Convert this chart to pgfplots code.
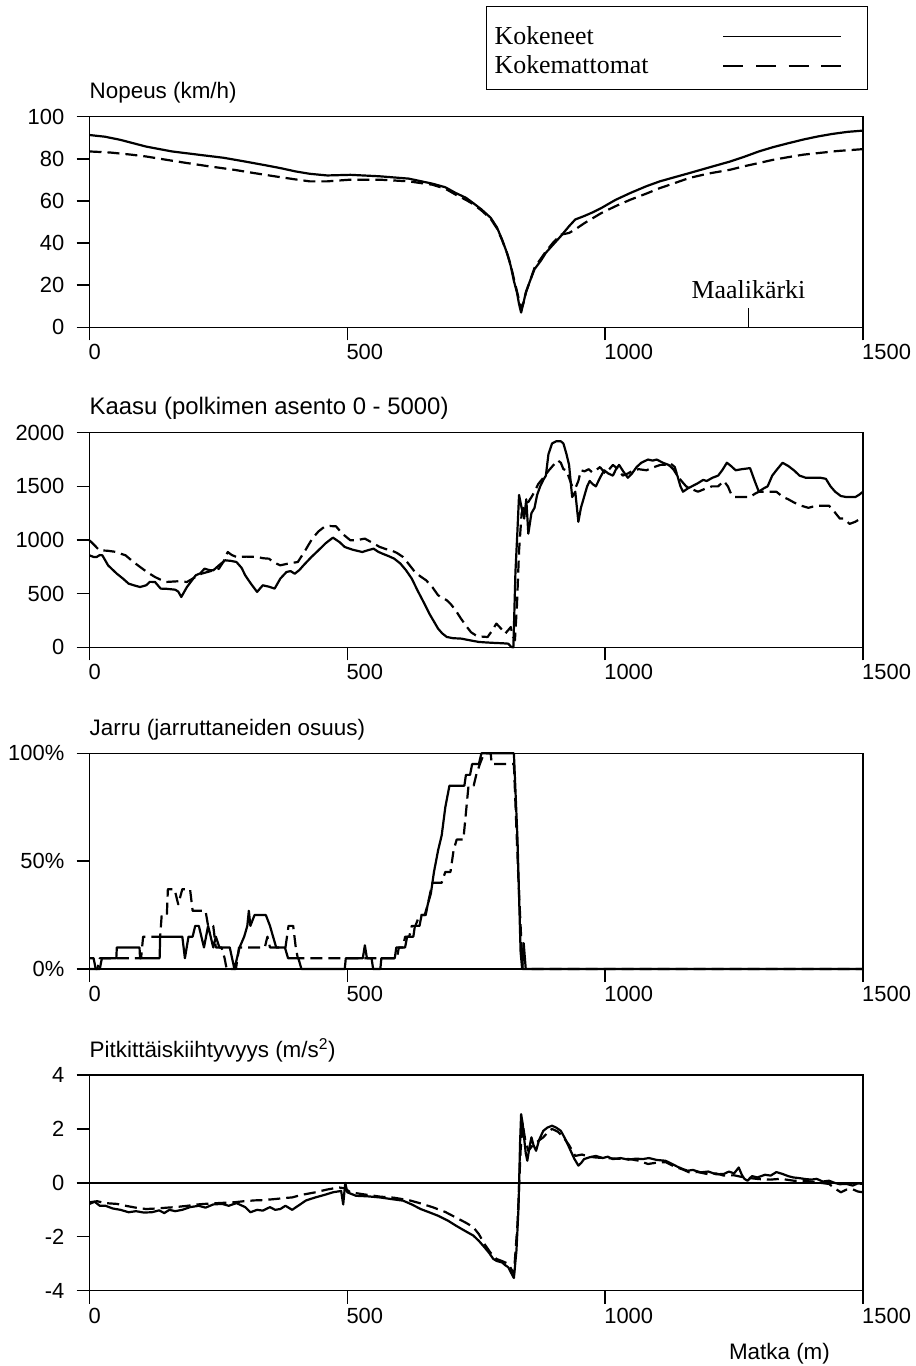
\documentclass[border=0pt]{standalone}
\usepackage{fontspec}
\setmainfont{Liberation Sans}
\newfontfamily\seriffont{Liberation Serif}
\usepackage{pgfplots}
\pgfplotsset{compat=1.18}
\begin{document}
\begin{tikzpicture}
\pgfplotsset{
  panel/.style={
    scale only axis, width=773.5bp,
    xmin=0, xmax=1500, xtick={0,500,1000,1500},
    clip=false,
    tick pos=left, tick align=outside, major tick length=13bp,
    axis line style={line width=1.4bp, black},
    every tick/.append style={line width=1.4bp, black},
    font=\fontsize{22}{26}\selectfont,
    /pgf/number format/assume math mode=true,
    /pgf/number format/1000 sep={},
    xticklabel style={anchor=north west, inner sep=0pt, xshift=-1bp, yshift=-4bp},
    yticklabel style={inner sep=0pt, xshift=-12bp},
    title style={at={(0,1)}, anchor=base west, inner sep=0pt, yshift=12bp, font=\fontsize{22.5}{27}\selectfont},
  },
  sol/.style={black, line width=2.2bp, line join=round},
  das/.style={black, line width=2.2bp, line join=round, dash pattern=on 12bp off 6bp},
}

% ---------------- Panel 1: Nopeus ----------------
\begin{axis}[panel, at={(89.5bp,-327.3bp)}, anchor=south west, height=210.6bp,
  ymin=0, ymax=100, ytick={0,20,40,60,80,100},
  title={Nopeus (km/h)},
  legend plot pos=right,
  legend image code/.code={\draw[#1] (0bp,0bp) -- (118bp,0bp); \path[draw=none] (0bp,18bp) rectangle (136bp,0bp);},
  legend style={at={(1.0065,1.5256)}, anchor=north east, draw=black, line width=1.4bp,
    font=\seriffont\fontsize{26}{30}\selectfont, inner xsep=8bp, inner ysep=12bp,
    column sep=74bp, row sep=0pt,
    nodes={inner sep=0pt, text height=19bp, text depth=4bp}},
  legend cell align=left,
]
\addplot[sol, legend image post style={line width=1.5bp, dash pattern=}] coordinates {
(0,91.3) (30,90.5) (60,89) (110,85.8) (160,83.5) (223,81.6) (260,80.5) (302,78.7) (340,77)
(370,75.6) (400,74) (427,72.9) (461,72.1) (506,72.4) (563,71.7) (619,70.6) (665,68.2)
(690,66.5) (710,63.8) (730,61.5) (744,59) (760,56) (778,52) (790,47.5) (800,41.7) (810,35)
(817,29) (823,22) (829,16.5) (833,11) (837,7) (841,11) (846,16.5) (855,22.5) (863,27.6)
(875,31.5) (885,35.4) (900,39.5) (914,43.3) (930,48) (942,51.2) (959,52.8) (975,54.5)
(993,56.7) (1020,60.5) (1049,63.8) (1080,67) (1106,69.3) (1135,71.3) (1163,73.2) (1200,75.8)
(1242,78.7) (1270,81) (1298,83.5) (1325,85.5) (1355,87.4) (1385,89.2) (1412,90.6) (1440,91.8)
(1470,92.8) (1500,93.4)
};
\addlegendentry{Kokeneet}
\addplot[das, legend image post style={line width=1.5bp, dash pattern=on 20bp off 12.67bp}] coordinates {
(0,83.5) (40,83) (80,82) (110,81.1) (150,79.5) (189,78) (230,76.5) (280,74.8) (320,73.2)
(359,71.7) (400,70.2) (427,69.3) (461,69.3) (506,70.1) (563,70.1) (619,69.3) (665,67.7)
(690,65.8) (710,63) (730,60.5) (744,58.5) (760,55.5) (778,51.5) (790,47) (800,41.5) (810,35)
(817,29.5) (823,23) (829,17) (834,12) (838,9) (842,12) (847,17) (855,22.5) (863,28.3)
(875,32.5) (885,36) (900,40.5) (914,44) (930,44.8) (942,46.5) (960,49.5) (993,54.3)
(1020,57.5) (1049,60.6) (1080,63.5) (1106,66.1) (1135,68.5) (1163,70.9) (1200,73) (1242,74.8)
(1270,76.5) (1298,78) (1325,79.5) (1355,80.8) (1385,82) (1412,82.7) (1450,83.7) (1500,84.6)
};
\addlegendentry{Kokemattomat}
\addplot[black, line width=1.4bp, forget plot] coordinates {(1278,0) (1278,9)};
\node[font=\seriffont\fontsize{26}{30}\selectfont, anchor=base, inner sep=0pt] at (axis cs:1278,13.5) {Maalikärki};
\end{axis}

% ---------------- Panel 2: Kaasu ----------------
\begin{axis}[panel, at={(89.5bp,-647.3bp)}, anchor=south west, height=214.6bp,
  ymin=0, ymax=2000, ytick={0,500,1000,1500,2000},
  title={Kaasu (polkimen asento 0 - 5000)},
  title style={font=\fontsize{24}{28}\selectfont},
]
\addplot[sol] coordinates {
(0,857) (8,842) (14,842) (20,860) (25,857) (36,764) (53,686) (65,640) (76,593) (88,575) (98,562)
(110,578) (117,610) (127,609) (138,547) (150,545) (166,537) (172,520) (178,469) (189,562)
(206,671) (215,690) (223,733) (232,720) (240,717) (250,760) (263,811) (275,805) (285,795)
(295,740) (302,671) (312,600) (325,516) (336,578) (348,565) (359,547) (370,640) (382,702)
(390,710) (398,686) (407,720) (415,764) (430,840) (444,904) (458,970) (472,1022) (485,980)
(495,935) (510,910) (529,888) (540,905) (551,919) (560,890) (568,873) (580,850) (591,826)
(603,780) (614,717) (625,640) (636,531) (648,420) (659,314) (668,240) (676,174) (684,130)
(693,96) (705,85) (721,81) (738,65) (755,50) (770,45) (789,40) (800,38) (812,34) (818,3)
(822,0) (826,700) (830,1100) (833,1420) (838,1300) (843,1200) (847,1380) (851,1059) (857,1250)
(863,1300) (868,1420) (874,1500) (880,1560) (885,1600) (890,1800) (897,1900) (905,1920)
(914,1920) (919,1900) (925,1800) (930,1700) (936,1400) (942,1450) (948,1170) (953,1300)
(959,1400) (965,1500) (970,1550) (976,1520) (982,1500) (990,1580) (998,1650) (1006,1620)
(1015,1600) (1021,1660) (1027,1700) (1035,1640) (1044,1580) (1052,1620) (1061,1680) (1070,1720)
(1083,1750) (1092,1740) (1100,1750) (1112,1720) (1123,1700) (1132,1660) (1140,1600) (1146,1500)
(1151,1450) (1160,1480) (1168,1500) (1180,1530) (1190,1560) (1197,1550) (1208,1580) (1219,1600)
(1227,1650) (1236,1720) (1244,1690) (1253,1650) (1265,1660) (1281,1670) (1290,1550) (1298,1450)
(1307,1480) (1315,1500) (1324,1600) (1332,1650) (1344,1720) (1355,1690) (1366,1650) (1377,1600)
(1389,1580) (1405,1580) (1418,1580) (1428,1570) (1437,1500) (1446,1450) (1457,1410) (1468,1400)
(1478,1400) (1485,1400) (1492,1420) (1500,1450)
};
\addplot[das] coordinates {
(0,997) (10,950) (19,904) (35,900) (53,888) (62,870) (70,857) (84,800) (98,749) (112,700)
(127,655) (138,630) (149,609) (170,615) (189,609) (200,640) (217,686) (235,710) (251,733)
(260,800) (268,888) (276,860) (285,842) (305,845) (325,842) (337,830) (348,826) (358,790)
(370,764) (385,780) (404,795) (418,900) (432,1013) (444,1080) (455,1121) (466,1130) (478,1128)
(490,1060) (506,997) (520,1000) (534,1013) (550,970) (563,935) (575,915) (585,904) (596,880)
(608,842) (620,770) (631,702) (642,660) (653,624) (665,560) (676,485) (685,460) (693,438)
(701,400) (710,345) (720,270) (732,189) (740,140) (749,112) (760,100) (772,96) (780,150)
(789,221) (797,180) (806,127) (812,160) (817,189) (821,100) (825,65) (829,400) (833,900)
(838,1250) (845,1350) (851,1354) (857,1400) (863,1450) (870,1520) (880,1580) (891,1650)
(900,1700) (908,1742) (914,1720) (919,1660) (925,1650) (930,1580) (936,1500) (942,1480)
(948,1550) (953,1650) (960,1640) (968,1660) (975,1630) (982,1650) (990,1680) (1000,1620)
(1008,1660) (1015,1700) (1025,1660) (1034,1600) (1044,1620) (1055,1650) (1065,1660) (1080,1650)
(1095,1680) (1107,1700) (1115,1700) (1125,1720) (1135,1680) (1140,1600) (1148,1550) (1157,1500)
(1165,1480) (1180,1450) (1195,1480) (1207,1500) (1219,1500) (1230,1550) (1238,1500) (1245,1420)
(1251,1400) (1265,1400) (1281,1400) (1290,1430) (1298,1450) (1315,1450) (1332,1450) (1345,1400)
(1355,1380) (1366,1350) (1380,1320) (1394,1300) (1410,1320) (1425,1320) (1434,1320) (1445,1260)
(1455,1200) (1463,1200) (1474,1150) (1485,1170) (1492,1190) (1500,1200)
};
\end{axis}

% ---------------- Panel 3: Jarru ----------------
\begin{axis}[panel, at={(89.5bp,-969bp)}, anchor=south west, height=215.7bp,
  ymin=0, ymax=100, ytick={0,50,100}, yticklabels={0\%,50\%,100\%},
  title={Jarru (jarruttaneiden osuus)},
]
\addplot[sol] coordinates {
(0,5) (8,5) (12,0) (20,0) (24,5) (52,5) (53,10) (97,10) (98,5) (136,5) (137,15) (180,15)
(185,5) (192,15) (200,15) (205,20) (212,20) (222,10) (230,20) (240,10) (245,15) (252,10)
(272,10) (281,0) (291,10) (300,15) (306,20) (309,27) (312,20) (320,25) (342,25) (350,20)
(356,15) (362,10) (379,10) (385,5) (405,5) (411,0) (495,0) (497,5) (530,5) (534,11) (538,5)
(547,5) (550,0) (564,0) (566,5) (592,5) (595,10) (612,10) (616,15) (628,15) (631,20) (640,20)
(644,25) (652,25) (656,30) (662,35) (668,45) (676,55) (683,62) (690,75) (698,85) (727,85)
(730,90) (738,90) (742,95) (755,95) (760,100) (823,100) (830,60) (836,8) (839,0) (842,12)
(846,0) (1500,0)
};
\addplot[das] coordinates {
(0,0) (15,0) (20,5) (100,5) (104,15) (137,15) (140,25) (150,25) (152,37) (165,37) (172,30)
(180,37) (195,37) (200,27) (225,27) (230,20) (240,20) (245,10) (256,10) (262,5) (266,0)
(284,0) (290,10) (340,10) (345,15) (350,10) (380,10) (386,20) (395,20) (400,10) (404,5)
(596,5) (600,10) (608,10) (612,15) (620,15) (625,20) (632,20) (640,25) (650,25) (656,30)
(665,40) (683,40) (690,45) (700,45) (706,55) (712,60) (725,60) (731,75) (735,85) (745,85)
(750,90) (757,95) (765,100) (778,100) (780,95) (823,95) (832,40) (840,0) (1500,0)
};
\end{axis}

% ---------------- Panel 4: Pitkittaiskiihtyvyys ----------------
\begin{axis}[panel, at={(89.5bp,-1290.7bp)}, anchor=south west, height=215.7bp,
  ymin=-4, ymax=4, ytick={-4,-2,0,2,4},
  title={Pitkittäiskiihtyvyys (m/s\textsuperscript{2})},
  xlabel={Matka (m)},
  xlabel style={at={(axis description cs:0.892,0)}, anchor=base, yshift=-69bp, inner sep=0pt, font=\fontsize{22.5}{27}\selectfont},
]
\addplot[black, line width=1.4bp, forget plot] coordinates {(0,0) (1500,0)};
\addplot[sol] coordinates {
(0,-0.78) (10,-0.7) (20,-0.85) (31,-0.85) (45,-0.95) (60,-1.0) (76,-1.09) (90,-1.05) (105,-1.1)
(121,-1.09) (135,-1.02) (145,-1.12) (155,-1.0) (166,-1.05) (180,-1.0) (195,-0.9) (212,-0.85)
(225,-0.92) (240,-0.8) (257,-0.78) (270,-0.85) (285,-0.75) (302,-0.9) (312,-1.09) (325,-1.0)
(336,-1.03) (350,-0.9) (360,-1.0) (370,-0.97) (380,-0.85) (393,-1.0) (410,-0.78) (420,-0.65)
(438,-0.54) (455,-0.45) (472,-0.35) (488,-0.3) (492,-0.8) (496,0.0) (500,-0.35) (517,-0.48)
(540,-0.5) (563,-0.54) (585,-0.6) (608,-0.66) (625,-0.8) (642,-0.97) (660,-1.1) (676,-1.22)
(695,-1.4) (710,-1.58) (728,-1.78) (744,-1.95) (755,-2.15) (766,-2.39) (775,-2.6) (783,-2.82)
(790,-2.9) (800,-2.95) (806,-3.05) (812,-3.13) (818,-3.35) (823,-3.53) (828,-2.5) (832,-0.9)
(835,1.5) (837,2.55) (840,2.2) (842,1.81) (846,1.1) (849,0.82) (853,1.3) (857,1.69) (861,1.4)
(866,1.19) (872,1.6) (880,1.93) (888,2.05) (897,2.12) (905,2.05) (914,1.93) (922,1.65) (930,1.32)
(940,0.9) (948,0.64) (954,0.75) (959,0.88) (970,0.95) (982,1.0) (995,0.92) (1005,0.97) (1015,0.88)
(1030,0.92) (1045,0.86) (1060,0.9) (1072,0.88) (1085,0.92) (1100,0.85) (1117,0.82) (1130,0.7)
(1140,0.6) (1151,0.51) (1160,0.45) (1170,0.48) (1185,0.39) (1200,0.42) (1215,0.32) (1230,0.33)
(1240,0.42) (1250,0.35) (1259,0.57) (1265,0.3) (1270,0.15) (1276,0.08) (1285,0.25) (1295,0.2)
(1310,0.3) (1321,0.27) (1332,0.4) (1344,0.33) (1355,0.25) (1365,0.2) (1375,0.18) (1389,0.14)
(1400,0.12) (1410,0.15) (1422,0.05) (1434,0.08) (1445,0.0) (1455,-0.05) (1468,-0.04) (1480,-0.1)
(1490,-0.02) (1500,-0.04)
};
\addplot[das] coordinates {
(0,-0.72) (15,-0.68) (30,-0.75) (53,-0.78) (70,-0.85) (90,-0.92) (110,-0.97) (130,-0.95)
(150,-0.92) (166,-0.9) (190,-0.85) (210,-0.8) (223,-0.78) (250,-0.75) (280,-0.72) (300,-0.68)
(320,-0.65) (336,-0.64) (360,-0.6) (380,-0.56) (393,-0.54) (410,-0.45) (438,-0.35) (460,-0.25)
(483,-0.17) (495,-0.2) (506,-0.35) (530,-0.42) (563,-0.51) (590,-0.55) (619,-0.64) (640,-0.75)
(665,-0.9) (690,-1.08) (710,-1.28) (730,-1.48) (744,-1.64) (755,-1.9) (766,-2.27) (778,-2.6)
(789,-2.82) (800,-2.9) (812,-3.0) (818,-3.2) (823,-3.38) (830,-1.5) (836,1.2) (840,2.18)
(845,1.6) (851,1.19) (860,1.4) (870,1.55) (880,1.69) (890,1.9) (897,2.0) (908,1.9) (919,1.69)
(930,1.4) (942,1.0) (955,1.05) (970,0.97) (982,0.94) (1000,0.92) (1020,0.9) (1049,0.88)
(1065,0.82) (1083,0.70) (1100,0.75) (1117,0.77) (1135,0.6) (1150,0.5) (1163,0.39) (1180,0.4)
(1200,0.32) (1215,0.35) (1230,0.27) (1250,0.28) (1270,0.2) (1298,0.14) (1320,0.12) (1340,0.15)
(1366,0.08) (1390,0.07) (1410,0.02) (1434,-0.04) (1445,-0.2) (1457,-0.35) (1468,-0.25)
(1479,-0.23) (1490,-0.32) (1500,-0.35)
};
\end{axis}

\pgfresetboundingbox
\useasboundingbox (0bp,0bp) rectangle (916bp,-1366bp);
\end{tikzpicture}
\end{document}
